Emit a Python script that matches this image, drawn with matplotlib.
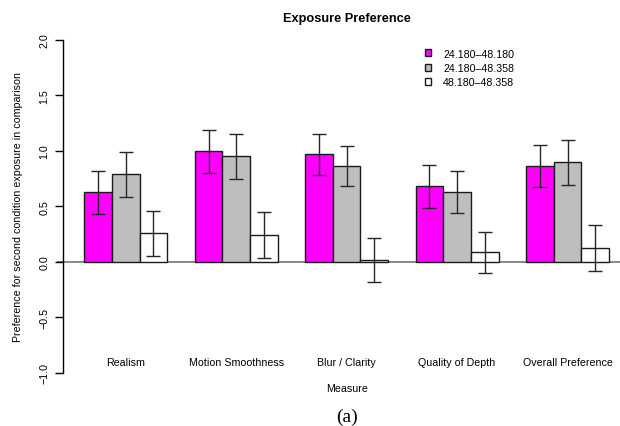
import matplotlib
matplotlib.use('Agg')
import matplotlib.pyplot as plt
import numpy as np

plt.rcParams['font.family'] = ['Liberation Sans', 'DejaVu Sans']

measures = ['Realism', 'Motion Smoothness', 'Blur / Clarity', 'Quality of Depth', 'Overall Preference']
series = ['24.180\u201348.180', '24.180\u201348.358', '48.180\u201348.358']
colors = ['#ff00ff', '#bebebe', '#ffffff']

# mean preference and half-width of the error bars, one list per comparison
pref_a = [0.625, 0.995, 0.970, 0.679, 0.865]
err_a = [0.195, 0.191, 0.185, 0.190, 0.191]
pref_b = [0.787, 0.950, 0.862, 0.628, 0.895]
err_b = [0.205, 0.203, 0.183, 0.188, 0.204]
pref_c = [0.259, 0.240, 0.018, 0.085, 0.126]
err_c = [0.203, 0.208, 0.195, 0.185, 0.210]

yticks = [-1.0, -0.5, 0.0, 0.5, 1.0, 1.5, 2.0]

W, H = 620, 427
fig = plt.figure(figsize=(6.2, 4.27), dpi=100)
ax = fig.add_axes([56.7 / W, 53 / H, (W - 56.7) / W, 333.3 / H])

ax.axhline(0, color='#808080', lw=1.3, zorder=1)

groups = np.arange(len(measures))
for j, (vals, errs) in enumerate([(pref_a, err_a), (pref_b, err_b), (pref_c, err_c)]):
    x = 1.5 + 4 * groups + j
    ax.bar(x, vals, width=1, color=colors[j], edgecolor='#1a1a1a', linewidth=1.0,
           label=series[j], zorder=2)
    ax.errorbar(x, vals, yerr=errs, fmt='none', ecolor='#262626', elinewidth=1.0,
                capsize=5, capthick=1.0, zorder=3)

for i, m in enumerate(measures):
    ax.text(2.5 + 4 * i, -0.905, m, ha='center', va='center', fontsize=7.7)

ax.set_xlim(0, 20.4)
ax.set_ylim(-1, 2)
for s in ['top', 'right', 'bottom']:
    ax.spines[s].set_visible(False)
ax.spines['left'].set_position(('data', 0.24))
ax.spines['left'].set_linewidth(1.0)
ax.set_xticks([])
ax.set_yticks(yticks)
ax.set_yticklabels(['%.1f' % v if v >= 0 else '\u2212%.1f' % -v for v in yticks],
                   rotation=90, va='center', fontsize=7.7)
ax.tick_params(axis='y', length=6, width=1.0, pad=4)

fig.text(347 / W, 1 - 19 / H, 'Exposure Preference', ha='center', va='center',
         fontsize=9.2, fontweight='bold')
fig.text(18.5 / W, 1 - 207.3 / H, 'Preference for second condition exposure in comparison',
         rotation=90, ha='center', va='center', fontsize=7.7)
fig.text(346.7 / W, 1 - 389.3 / H, 'Measure', ha='center', va='center', fontsize=7.7)
fig.text(347.3 / W, 1 - 417 / H, '(a)', ha='center', va='center', fontsize=14,
         family='Liberation Serif')

fig.legend(loc='upper left', bbox_to_anchor=(424.5 / W, 1 - 49.5 / H), frameon=False,
           fontsize=7.7, handlelength=0.65, handleheight=0.65, handletextpad=1.1,
           labelspacing=0.42, borderaxespad=0, borderpad=0)

fig.savefig('out.png', dpi=100)
